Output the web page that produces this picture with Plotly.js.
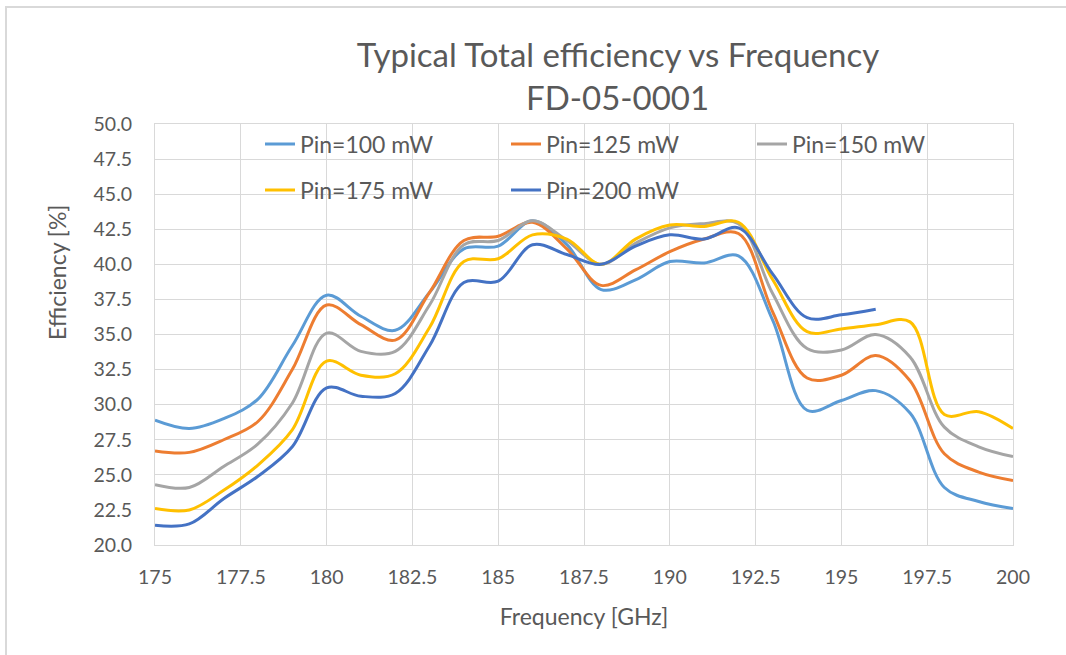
<!DOCTYPE html>
<html>
<head>
<meta charset="utf-8">
<script src="https://cdn.plot.ly/plotly-3.0.1.min.js"></script>
<style>
  html, body { margin: 0; padding: 0; background: #ffffff; overflow: hidden; }
  #wrap { position: relative; width: 1066px; height: 655px; }
  #chart { width: 1066px; height: 655px; }
  #frame { position: absolute; left: 5px; top: 6px; width: 1100px; height: 700px;
           border-left: 2px solid #D9D9D9; border-top: 2px solid #D9D9D9; pointer-events: none; }
</style>
</head>
<body>
<div id="wrap">
<div id="chart"></div>
<div id="frame"></div>
</div>
<script>
// Frequency [GHz]
const freq = [175,176,177,178,179,180,181,182,183,184,185,186,187,188,189,190,191,192,193,194,195,196,197,198,199,200];
const freq200 = [175,176,177,178,179,180,181,182,183,184,185,186,187,188,189,190,191,192,193,194,195,196];

// Efficiency [%]
const pin100 = [28.9,28.3,29.0,30.4,34.2,37.8,36.3,35.3,38.0,41.1,41.3,43.1,41.4,38.2,38.9,40.2,40.1,40.6,36.0,29.6,30.3,31.0,29.4,24.1,23.1,22.6];
const pin125 = [26.7,26.6,27.5,28.8,32.5,37.1,35.7,34.6,38.0,41.7,42.0,43.0,41.1,38.5,39.6,40.9,41.8,42.2,36.6,31.9,32.1,33.5,31.7,26.5,25.2,24.6];
const pin150 = [24.3,24.1,25.6,27.2,30.1,35.1,33.8,33.8,37.1,41.4,41.7,43.1,41.7,40.0,41.5,42.6,42.9,42.9,37.9,34.0,33.9,35.0,33.4,28.4,27.0,26.3];
const pin175 = [22.6,22.5,23.9,25.7,28.2,33.1,32.1,32.2,35.5,40.2,40.4,42.1,41.8,40.0,41.8,42.8,42.7,43.0,38.9,35.2,35.4,35.7,35.9,29.3,29.5,28.3];
const pin200 = [21.4,21.5,23.3,24.9,27.0,31.2,30.6,30.8,34.2,38.7,38.8,41.4,40.7,40.0,41.3,42.1,41.8,42.6,39.3,36.2,36.4,36.8];

const names = ['Pin=100 mW','Pin=125 mW','Pin=150 mW','Pin=175 mW','Pin=200 mW'];
const colors = ['#5B9BD5','#ED7D31','#A5A5A5','#FFC000','#4472C4'];
const legendsOf = ['legend','legend','legend','legend2','legend2'];
const xs = [freq,freq,freq,freq,freq200];
const ys = [pin100,pin125,pin150,pin175,pin200];

const FONT = 'Lato, "Open Sans", sans-serif';
const TXT = '#595959';

const traces = ys.map((y,i) => ({
  type: 'scatter', mode: 'lines',
  x: xs[i], y: y, name: names[i],
  legend: legendsOf[i],
  line: { color: colors[i], width: 3, shape: 'spline', smoothing: 1 }
}));

const legendBase = {
  orientation: 'h', xanchor: 'left', yanchor: 'middle',
  xref: 'paper', yref: 'paper',
  entrywidth: 201, entrywidthmode: 'pixels',
  bgcolor: 'rgba(0,0,0,0)', borderwidth: 0,
  font: { family: FONT, size: 23, color: TXT },
  traceorder: 'normal'
};

// pixel -> paper helpers (plot area 155..1013 x 124..545)
const px = v => (v - 155) / 858;
const py = v => (545 - v) / 421;

const layout = {
  width: 1066, height: 655,
  margin: { l: 155, r: 53, t: 124, b: 110 },
  paper_bgcolor: '#ffffff', plot_bgcolor: '#ffffff',
  font: { family: FONT, color: TXT },
  showlegend: true,
  title: {
    text: 'Typical Total efficiency vs Frequency',
    font: { family: FONT, size: 33, color: TXT },
    xref: 'paper', x: px(618), xanchor: 'center',
    yref: 'container', y: 1 - 55 / 655, yanchor: 'middle'
  },
  xaxis: {
    range: [175, 200], dtick: 2.5, tick0: 175,
    showgrid: true, gridcolor: '#D9D9D9', gridwidth: 1,
    showline: true, linecolor: '#D9D9D9', linewidth: 1, mirror: true,
    zeroline: false, ticks: '',
    ticklabelstandoff: 15,
    tickfont: { family: FONT, size: 19.5, color: TXT },
    title: { text: 'Frequency [GHz]', standoff: 21, font: { family: FONT, size: 23, color: TXT } }
  },
  yaxis: {
    range: [20, 50], dtick: 2.5, tick0: 20, tickformat: '.1f',
    showgrid: true, gridcolor: '#D9D9D9', gridwidth: 1,
    showline: true, linecolor: '#D9D9D9', linewidth: 1, mirror: true,
    zeroline: false, ticks: '',
    ticklabelstandoff: 18,
    tickfont: { family: FONT, size: 19.5, color: TXT }
  },
  legend: Object.assign({}, legendBase, { x: px(260), y: py(144) }),
  legend2: Object.assign({}, legendBase, { x: px(260), y: py(190) }),
  annotations: [
    {
      text: 'FD-05-0001',
      xref: 'paper', yref: 'paper',
      x: px(617), y: py(97),
      xanchor: 'center', yanchor: 'middle', showarrow: false,
      font: { family: FONT, size: 33, color: TXT }
    },
    {
      text: 'Efficiency [%]', textangle: -90,
      xref: 'paper', yref: 'paper',
      x: px(57), y: py(273),
      xanchor: 'center', yanchor: 'middle', showarrow: false,
      font: { family: FONT, size: 23, color: TXT }
    }
  ]
};

Plotly.newPlot('chart', traces, layout, { displayModeBar: false, staticPlot: true });
</script>
</body>
</html>
